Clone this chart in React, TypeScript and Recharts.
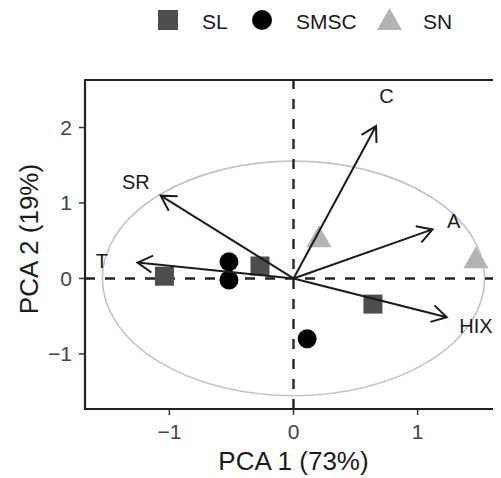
import React from "react";
import {
  ScatterChart,
  Scatter,
  XAxis,
  YAxis,
  ReferenceLine,
  ReferenceArea,
  Legend,
  Label,
} from "recharts";

// sample scores per group
const groups = ["SL", "SMSC", "SN"];
const slX = [-1.04, -0.27, 0.64];
const slY = [0.03, 0.165, -0.34];
const smscX = [-0.52, -0.52, 0.11];
const smscY = [0.22, -0.02, -0.8];
const snX = [0.205, 1.47];
const snY = [0.56, 0.28];

// loading vectors and where their names sit
const loadingNames = ["C", "A", "HIX", "SR", "T"];
const loadingX = [0.665, 1.12, 1.235, -1.07, -1.256];
const loadingY = [2.02, 0.65, -0.514, 1.097, 0.21];
const labelX = [0.75, 1.29, 1.47, -1.27, -1.545];
const labelY = [2.42, 0.755, -0.63, 1.28, 0.225];

const xTicks = [-1, 0, 1];
const yTicks = [-1, 0, 1, 2];
const xDomain: [number, number] = [-1.68, 1.68];
const yDomain: [number, number] = [-1.73, 2.63];
const circleRadius = [1.54, 1.555];

const FONT = "'Liberation Sans', Arial, Helvetica, sans-serif";
const INK = "#1a1a1a";

const toRows = (xs: number[], ys: number[]) => xs.map((x, i) => ({ x, y: ys[i] }));
const slData = toRows(slX, slY);
const smscData = toRows(smscX, smscY);
const snData = toRows(snX, snY);
const labelData = loadingNames.map((name, i) => ({ name, x: labelX[i], y: labelY[i] }));

const minus = (v: number) => String(v).replace("-", "\u2212");

const Square = (p: any) => (
  <rect x={p.cx - 9.5} y={p.cy - 9.5} width={19} height={19} fill="#4d4d4d" />
);
const Dot = (p: any) => <circle cx={p.cx} cy={p.cy} r={9.5} fill="#000" />;
const Tri = (p: any) => (
  <polygon
    points={`${p.cx - 12.5},${p.cy + 11} ${p.cx + 12.5},${p.cy + 11} ${p.cx},${p.cy - 11}`}
    fill="#b3b3b3"
  />
);

const Arrow = (p: any) => {
  const { x1, y1, x2, y2 } = p;
  const a = Math.atan2(y2 - y1, x2 - x1);
  const len = 17;
  const spread = Math.PI / 6;
  const ax = x2 - len * Math.cos(a - spread);
  const ay = y2 - len * Math.sin(a - spread);
  const bx = x2 - len * Math.cos(a + spread);
  const by = y2 - len * Math.sin(a + spread);
  return (
    <g>
      <line x1={x1} y1={y1} x2={x2} y2={y2} stroke={INK} strokeWidth={2} />
      <polyline
        points={`${ax},${ay} ${x2},${y2} ${bx},${by}`}
        fill="none"
        stroke={INK}
        strokeWidth={2}
      />
    </g>
  );
};

const LoadingLabel = (p: any) => (
  <text
    x={p.cx}
    y={p.cy}
    textAnchor="middle"
    dominantBaseline="central"
    fontSize={20}
    fontFamily={FONT}
    fill={INK}
  >
    {p.payload.name}
  </text>
);

const legendPos = [150, 244, 369];
const legendTextPos = [194, 288, 415];

const LegendContent = () => (
  <svg width={493} height={36} style={{ overflow: "visible", display: "block" }}>
    <rect x={legendPos[0]} y={2} width={20} height={20} fill="#4d4d4d" />
    <circle cx={legendPos[1] + 10} cy={12} r={10} fill="#000" />
    <polygon
      points={`${legendPos[2]},${22} ${legendPos[2] + 25},${22} ${legendPos[2] + 12.5},${0}`}
      fill="#b3b3b3"
    />
    {groups.map((g, i) => (
      <text key={g} x={legendTextPos[i]} y={21} fontSize={21} fontFamily={FONT} fill={INK}>
        {g}
      </text>
    ))}
  </svg>
);

export default function App() {
  return (
    <div style={{ width: 493, height: 470, overflow: "hidden", position: "relative" }}>
      <ScatterChart
        width={520}
        height={470}
        margin={{ top: 72, right: 26, bottom: 0, left: 8 }}
        style={{ fontFamily: FONT }}
      >
        <XAxis
          type="number"
          dataKey="x"
          domain={xDomain}
          ticks={xTicks}
          allowDataOverflow
          height={69}
          axisLine={false}
          tickLine={{ stroke: "#333", strokeWidth: 1.5 }}
          tickSize={6}
          tickMargin={9}
          tickFormatter={minus}
          tick={{ fontSize: 21, fill: "#444", fontFamily: FONT }}
        >
          <Label
            content={(props: any) => {
              const vb = props.viewBox;
              return (
                <text
                  x={vb.x + vb.width / 2}
                  y={vb.y + 61}
                  textAnchor="middle"
                  fontSize={26}
                  fontFamily={FONT}
                  fill={INK}
                >
                  PCA 1 (73%)
                </text>
              );
            }}
          />
        </XAxis>
        <YAxis
          type="number"
          dataKey="y"
          domain={yDomain}
          ticks={yTicks}
          allowDataOverflow
          width={69}
          axisLine={false}
          tickLine={{ stroke: "#333", strokeWidth: 1.5 }}
          tickSize={6}
          tickMargin={7}
          tickFormatter={minus}
          tick={{ fontSize: 21, fill: "#444", fontFamily: FONT }}
        >
          <Label
            content={(props: any) => {
              const vb = props.viewBox;
              const x = vb.x + 22;
              const y = vb.y + vb.height / 2 - 5.5;
              return (
                <text
                  x={x}
                  y={y}
                  transform={`rotate(-90 ${x} ${y})`}
                  textAnchor="middle"
                  fontSize={26}
                  fontFamily={FONT}
                  fill={INK}
                >
                  PCA 2 (19%)
                </text>
              );
            }}
          />
        </YAxis>
        <Legend
          verticalAlign="middle"
          align="center"
          layout="horizontal"
          wrapperStyle={{ top: 0, left: 0, width: 493 }}
          content={<LegendContent />}
        />

        <ReferenceArea
          x1={-circleRadius[0]}
          x2={circleRadius[0]}
          y1={-circleRadius[1]}
          y2={circleRadius[1]}
          ifOverflow="visible"
          zIndex={50}
          shape={(p: any) => (
            <ellipse
              cx={p.x + p.width / 2}
              cy={p.y + p.height / 2}
              rx={Math.abs(p.width) / 2}
              ry={Math.abs(p.height) / 2}
              fill="none"
              stroke="#c4c4c4"
              strokeWidth={1.6}
            />
          )}
        />
        <ReferenceArea
          x1={xDomain[0]}
          x2={xDomain[1]}
          y1={yDomain[0]}
          y2={yDomain[1]}
          ifOverflow="visible"
          zIndex={55}
          fill="none"
          stroke="#222"
          strokeWidth={2.2}
        />
        <ReferenceLine x={0} stroke="#222" strokeWidth={2.4} strokeDasharray="10 10" zIndex={60} />
        <ReferenceLine y={0} stroke="#222" strokeWidth={2.4} strokeDasharray="10 10" zIndex={60} />

        <Scatter name="SL" data={slData} shape={Square} isAnimationActive={false} />
        <Scatter name="SMSC" data={smscData} shape={Dot} isAnimationActive={false} />
        <Scatter name="SN" data={snData} shape={Tri} isAnimationActive={false} />

        {loadingNames.map((n, i) => (
          <ReferenceLine
            key={n}
            segment={[
              { x: 0, y: 0 },
              { x: loadingX[i], y: loadingY[i] },
            ]}
            ifOverflow="visible"
            zIndex={700}
            shape={Arrow}
          />
        ))}

        <Scatter
          name="labels"
          data={labelData}
          shape={LoadingLabel}
          legendType="none"
          isAnimationActive={false}
          zIndex={800}
        />
      </ScatterChart>
    </div>
  );
}
